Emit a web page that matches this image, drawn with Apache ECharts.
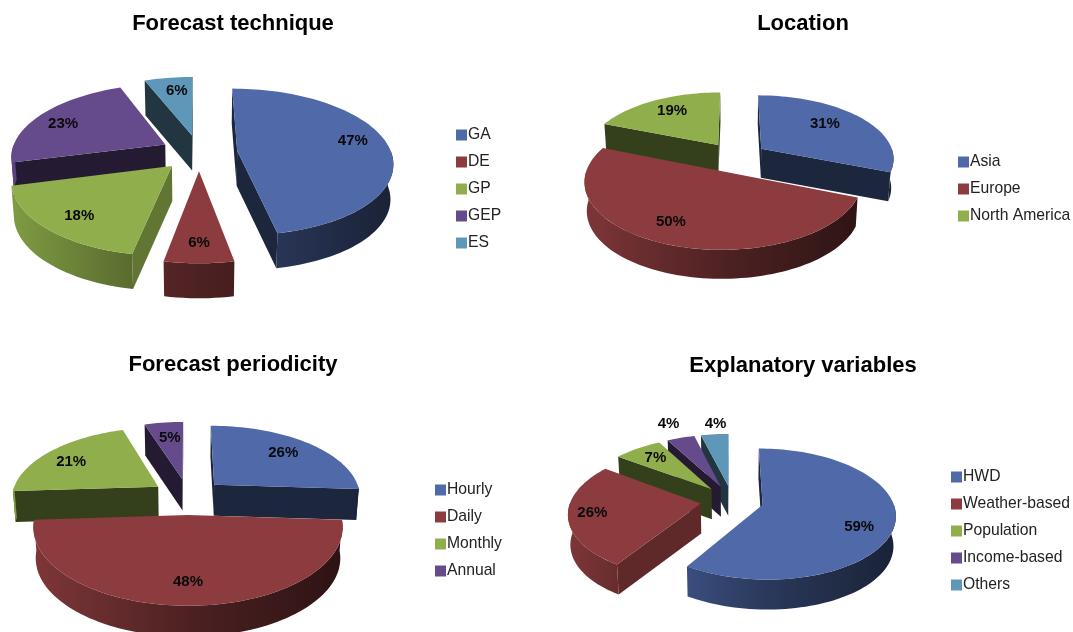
<!DOCTYPE html>
<html><head><meta charset="utf-8">
<style>html,body{margin:0;padding:0;background:#fff;overflow:hidden}#c{width:1073px;height:632px}</style>
<script src="https://cdn.jsdelivr.net/npm/echarts@6/dist/echarts.min.js"></script>
</head><body><div id="c"></div>
<script>
// ---- data ----
const techniqueCategories = ['GA','DE','GP','GEP','ES'];
const techniqueValues = [47,6,18,23,6];
const locationCategories = ['Asia','Europe','North America'];
const locationValues = [31,50,19];
const periodicityCategories = ['Hourly','Daily','Monthly','Annual'];
const periodicityValues = [26,48,21,5];
const variableCategories = ['HWD','Weather-based','Population','Income-based','Others'];
const variableValues = [59,26,7,4,4];
const titles = ['Forecast technique','Location','Forecast periodicity','Explanatory variables'];

// ---- styling / layout ----
const palette = ['#4f69a9','#8c3c3e','#90ae4b','#654a8c','#5f97b8'];
const FONT = '"Liberation Sans", Arial, sans-serif';
const panels = [
 {cats:techniqueCategories, vals:techniqueValues, title:titles[0], tx:233, ty:13,
  g:{cx:199,cy:152.5,rx:154,ry:72,k:.15,h:35,e:.25},
  lab:[[.79,-5.5],[.81,0],[.79,-2.5],[.78,-3.6],[.75,1.7]], lx:456, ly:127},
 {cats:locationCategories, vals:locationValues, title:titles[1], tx:803, ty:13,
  g:{cx:735.5,cy:157,rx:133,ry:63,k:.14,h:29,e:.238},
  lab:[[.682,-5],[.76,4.7],[.733,1.4]], lx:958, ly:154},
 {cats:periodicityCategories, vals:periodicityValues, title:titles[2], tx:233, ty:354,
  g:{cx:188,cy:496.5,rx:147,ry:71,k:.15,h:31,e:.25},
  lab:[[.74,-.8],[.77,0],[.76,-3.2],[.71,.7]], lx:435, ly:482},
 {cats:variableCategories, vals:variableValues, title:titles[3], tx:803, ty:355,
  g:{cx:732,cy:500.5,rx:130,ry:63,k:.14,h:30,e:.243},
  lab:[[.765,9.3],[.82,.6],[.75,.6],[1.34,-.3],[1.23,1.5]], lx:951, ly:469}
];

function hex(c){return [1,3,5].map(i=>parseInt(c.substr(i,2),16));}
function shadeColor(c,f){const a=hex(c).map(x=>Math.round(x*f));return `rgb(${a[0]},${a[1]},${a[2]})`;}
function wallShade(u){return u<0 ? .55+(-u)*.35 : .55-u*.23;}
const rad=d=>d*Math.PI/180;

function project(g,u,v,drop){
  const s=1/(1-g.k*v)*(drop?.985:1);
  return [g.cx+g.rx*u*s, g.cy+g.ry*v/(1-g.k*v)+(drop?g.h:0)];
}
function makeRender(panel,index){
  const g=panel.g, color=palette[index], lab=panel.lab[index];
  return function(params,api){
    const value=api.value(0), before=api.value(1);
    const a0=before*3.6, a1=(before+value)*3.6, mid=(a0+a1)/2;
    const ou=g.e*Math.sin(rad(mid)), ov=-g.e*Math.cos(rad(mid));
    const pt=(ang,drop,r)=>{r=r===undefined?1:r;return project(g,ou+r*Math.sin(rad(ang)),ov-r*Math.cos(rad(ang)),drop);};
    const apexT=project(g,ou,ov,false), apexB=project(g,ou,ov,true);
    const children=[];
    // cut faces: only those turned towards the viewer
    const cut=(ang,normal)=>{
      const n=((normal%360)+360)%360;
      if(-Math.cos(rad(n))<-.01) return;
      const f=(n>95&&n<140)?.68:.36;
      children.push({type:'polygon',shape:{points:[apexT,pt(ang,false),pt(ang,true),apexB]},
        style:{fill:shadeColor(color,f)},silent:true});
    };
    cut(a0,a0-90); cut(a1,a1+90);
    // outer wall: only the part that faces the viewer
    const w0=Math.max(a0,90), w1=Math.min(a1,270);
    if(w1>w0){
      const top=[],bot=[];
      const n=Math.ceil((w1-w0)/2);
      for(let i=0;i<=n;i++){const t=w0+(w1-w0)*i/n;top.push(pt(t,false));bot.unshift(pt(t,true));}
      let uMin=1,uMax=-1;
      for(let i=0;i<=n;i++){const u=Math.sin(rad(w0+(w1-w0)*i/n));uMin=Math.min(uMin,u);uMax=Math.max(uMax,u);}
      const stops=[];
      for(let i=0;i<=6;i++){const u=uMin+(uMax-uMin)*i/6;stops.push({offset:i/6,color:shadeColor(color,wallShade(u))});}
      children.push({type:'polygon',shape:{points:top.concat(bot)},silent:true,
        style:{fill:{type:'linear',x:0,y:0,x2:1,y2:0,colorStops:stops}}});
    }
    // top face
    const face=[apexT];
    const n=Math.ceil((a1-a0)/2);
    for(let i=0;i<=n;i++)face.push(pt(a0+(a1-a0)*i/n,false));
    children.push({type:'polygon',shape:{points:face},style:{fill:color},silent:true});
    // percentage label
    const lp=pt(mid+lab[1],false,lab[0]);
    children.push({type:'text',silent:true,style:{text:value+'%',x:lp[0],y:lp[1],align:'center',verticalAlign:'middle',
      fill:'#0a0a0a',font:'bold 15px '+FONT}});
    return {type:'group',children};
  };
}

const series=[],legends=[],titleOpts=[];
panels.forEach(p=>{
  let cum=0;
  p.cats.forEach((name,i)=>{
    const v=p.vals[i], midAng=(cum+v/2)*3.6;
    const depth=-Math.cos(rad(midAng));
    series.push({type:'custom',name,coordinateSystem:'none',silent:true,animation:false,
      z:20+Math.round(depth*10),itemStyle:{color:palette[i]},
      renderItem:makeRender(p,i),data:[[v,cum]]});
    cum+=v;
  });
  titleOpts.push({text:p.title,left:p.tx,top:p.ty,textAlign:'center',padding:0,
    textStyle:{fontFamily:FONT,fontWeight:'bold',fontSize:22,color:'#000'}});
  legends.push({data:p.cats,orient:'vertical',left:p.lx,top:p.ly,padding:0,itemWidth:11,itemHeight:11,itemGap:11,
    icon:'rect',selectedMode:false,
    textStyle:{fontFamily:FONT,fontSize:15.7,color:'#222',padding:[0,0,0,-4],lineHeight:11}});
});

const chart=echarts.init(document.getElementById('c'),null,{renderer:'canvas'});
chart.setOption({animation:false,backgroundColor:'#fff',title:titleOpts,legend:legends,series});
</script></body></html>
